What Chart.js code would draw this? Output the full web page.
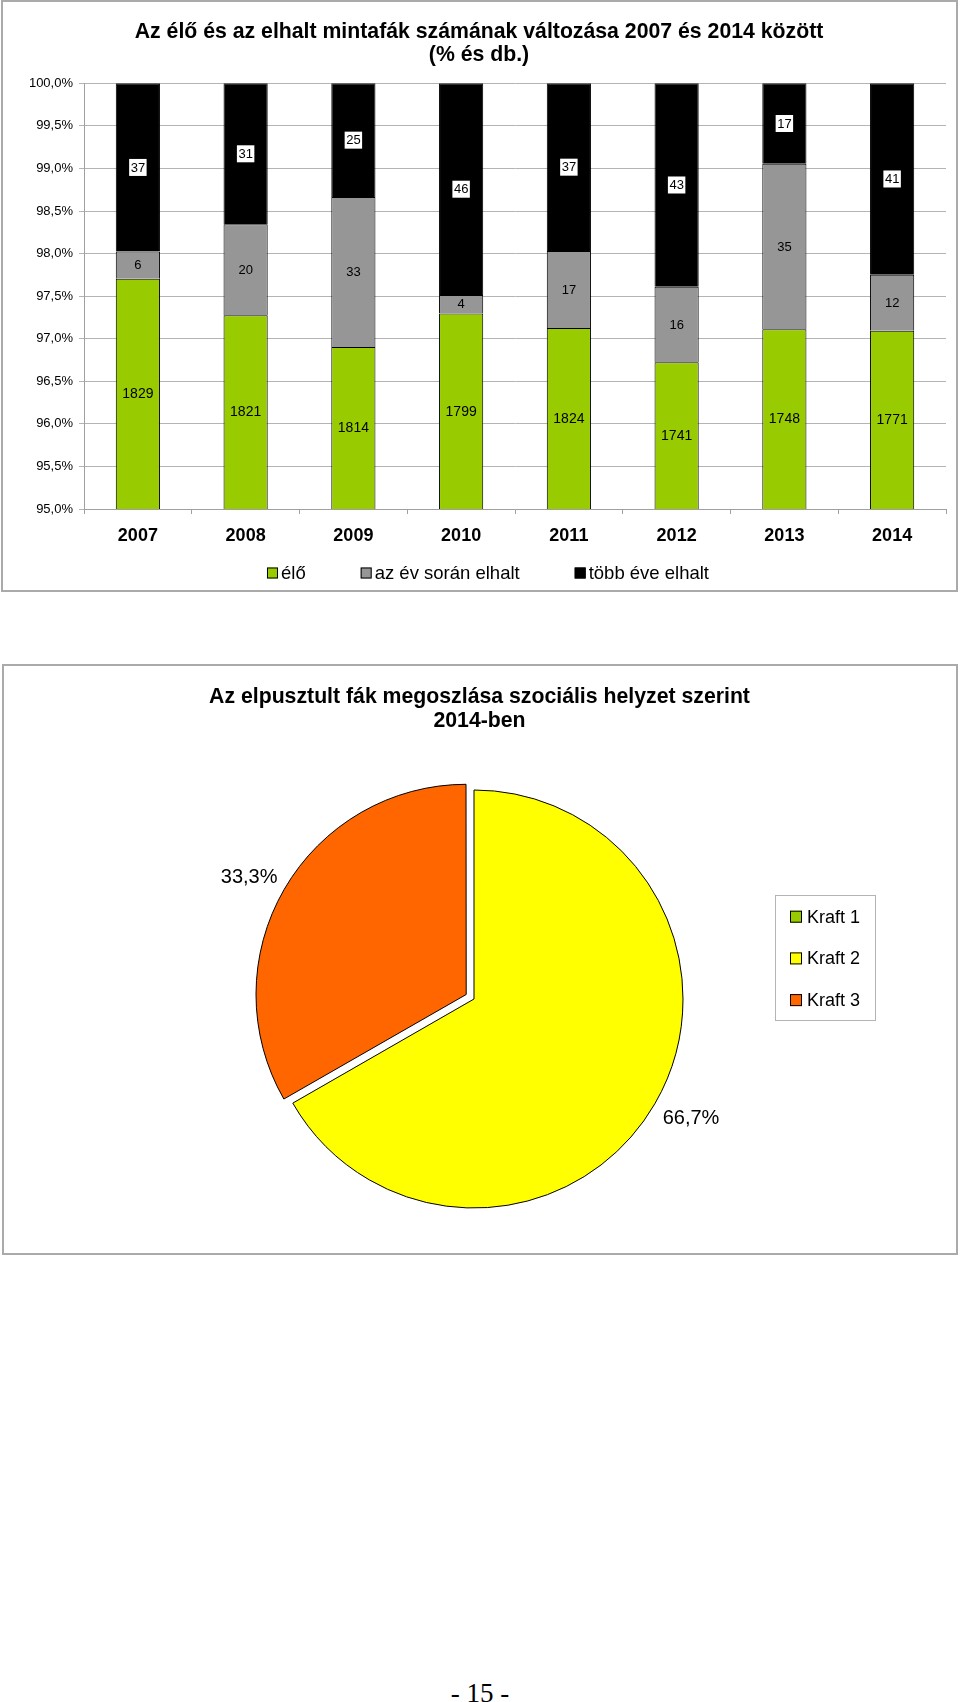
<!DOCTYPE html>
<html>
<head>
<meta charset="utf-8">
<script src="https://cdn.jsdelivr.net/npm/chart.js@4.4.1/dist/chart.umd.min.js"></script>
<style>
html,body{margin:0;padding:0;background:#fff;width:960px;height:1702px;overflow:hidden;position:relative;}
.frame{position:absolute;border:2px solid #aaaaaa;box-sizing:border-box;}
canvas{position:absolute;left:0;}
#pageno{position:absolute;left:0;width:960px;top:1678px;text-align:center;font-family:"Liberation Serif","Times New Roman",serif;font-size:27px;line-height:30px;color:#000;}
</style>
</head>
<body>
<div class="frame" style="left:1px;top:0px;width:957px;height:592px"></div>
<div class="frame" style="left:2px;top:664px;width:956px;height:591px"></div>
<canvas id="c1" width="960" height="595" style="top:0px"></canvas>
<canvas id="c2" width="960" height="700" style="top:600px"></canvas>
<div id="pageno">- 15 -</div>
<script>
// ---- data (chart 1) ----
const years = ['2007', '2008', '2009', '2010', '2011', '2012', '2013', '2014'];
const elo = [1829, 1821, 1814, 1799, 1824, 1741, 1748, 1771];
const evSoranElhalt = [6, 20, 33, 4, 17, 16, 35, 12];
const tobbEveElhalt = [37, 31, 25, 46, 37, 43, 17, 41];
const seriesNames = ['élő', 'az év során elhalt', 'több éve elhalt'];
const title1 = ['Az élő és az elhalt mintafák számának változása 2007 és 2014 között', '(% és db.)'];
const yMin = 95, yMax = 100, yStep = 0.5;

// ---- data (chart 2) ----
const pieLabels = ['Kraft 1', 'Kraft 2', 'Kraft 3'];
const pieValues = [0, 66.7, 33.3];
const title2 = ['Az elpusztult fák megoszlása szociális helyzet szerint', '2014-ben'];

const FONT = '"Liberation Sans", Arial, Helvetica, sans-serif';
Chart.defaults.font.family = FONT;
Chart.defaults.color = '#000';

const totals = years.map((_, i) => elo[i] + evSoranElhalt[i] + tobbEveElhalt[i]);
const share = arr => arr.map((v, i) => v / totals[i] * 100);
const fmtPct = v => v.toFixed(1).replace('.', ',') + '%';

const barLabels = {
  id: 'barLabels',
  afterDatasetsDraw(chart) {
    const {ctx, chartArea} = chart;
    chart.data.datasets.forEach((ds, di) => {
      const meta = chart.getDatasetMeta(di);
      meta.data.forEach((bar, i) => {
        const top = Math.max(Math.min(bar.y, bar.base), chartArea.top);
        const bottom = Math.min(Math.max(bar.y, bar.base), chartArea.bottom);
        const cx = bar.x, cy = (top + bottom) / 2;
        const txt = String(ds.counts[i]);
        ctx.save();
        ctx.font = (di === 0 ? '14px ' : '13px ') + FONT;
        ctx.textAlign = 'center';
        ctx.textBaseline = 'middle';
        if (di === 2) {
          const w = ctx.measureText(txt).width + 3;
          ctx.fillStyle = '#fff';
          ctx.fillRect(cx - w / 2, cy - 8.5, w, 17);
        }
        ctx.fillStyle = '#000';
        ctx.fillText(txt, cx, cy + 0.5);
        ctx.restore();
      });
    });
  }
};

const legendRow = {
  id: 'legendRow',
  afterDraw(chart, args, opts) {
    const ctx = chart.ctx;
    ctx.save();
    ctx.font = opts.fontSize + 'px ' + FONT;
    const items = chart.data.datasets.map(d => ({text: d.label, color: d.backgroundColor}));
    const box = opts.box, gap = opts.gap, spacing = opts.spacing;
    const widths = items.map(it => box + gap + ctx.measureText(it.text).width);
    const total = widths.reduce((a, b) => a + b, 0) + spacing * (items.length - 1);
    let x = opts.centerX - total / 2;
    items.forEach((it, i) => {
      ctx.fillStyle = it.color;
      ctx.fillRect(x, opts.y - box / 2, box, box);
      ctx.strokeStyle = '#000';
      ctx.lineWidth = 1;
      ctx.strokeRect(x + 0.5, opts.y - box / 2 + 0.5, box - 1, box - 1);
      ctx.fillStyle = '#000';
      ctx.textAlign = 'left';
      ctx.textBaseline = 'middle';
      ctx.fillText(it.text, x + box + gap, opts.y + 1);
      x += widths[i] + spacing;
    });
    ctx.restore();
  }
};

new Chart(document.getElementById('c1'), {
  type: 'bar',
  data: {
    labels: years,
    datasets: [
      {label: seriesNames[0], data: share(elo), counts: elo, backgroundColor: '#99CC00'},
      {label: seriesNames[1], data: share(evSoranElhalt), counts: evSoranElhalt, backgroundColor: '#969696'},
      {label: seriesNames[2], data: share(tobbEveElhalt), counts: tobbEveElhalt, backgroundColor: '#000000'}
    ]
  },
  options: {
    responsive: false,
    animation: false,
    events: [],
    datasets: {bar: {categoryPercentage: 1, barPercentage: 0.41, borderColor: '#000', borderWidth: 1}},
    layout: {padding: {left: 12, right: 14, top: 0, bottom: 0}},
    plugins: {
      legend: {display: false},
      tooltip: {enabled: false},
      title: {
        display: true, text: title1, color: '#000',
        font: {size: 21.25, weight: 'bold', lineHeight: '23px'},
        padding: {top: 20.5, bottom: 16.8}
      },
      legendRow: {centerX: 488, y: 573, fontSize: 18.5, box: 11, gap: 3, spacing: 55}
    },
    scales: {
      x: {
        stacked: true,
        grid: {drawOnChartArea: false, color: '#a0a0a0', tickLength: 5, offset: true},
        border: {color: '#a0a0a0'},
        ticks: {font: {size: 18, weight: 'bold'}, color: '#000', padding: 11},
        afterFit(s) { s.height = 86; }
      },
      y: {
        stacked: true, min: yMin, max: yMax,
        ticks: {stepSize: yStep, callback: v => fmtPct(v), font: {size: 13}, color: '#000', padding: 6},
        grid: {color: '#b4b4b4', tickLength: 5},
        border: {color: '#a0a0a0'},
        afterFit(s) { s.width = 72; }
      }
    }
  },
  plugins: [barLabels, legendRow]
});

// ---- pie ----
const pieLabelPlugin = {
  id: 'pieOuterLabels',
  afterDatasetsDraw(chart, args, opts) {
    const ctx = chart.ctx;
    const meta = chart.getDatasetMeta(0);
    const ds = chart.data.datasets[0];
    meta.data.forEach((arc, i) => {
      if (!(ds.data[i] > 0)) return;
      const mid = (arc.startAngle + arc.endAngle) / 2;
      const off = (arc.options.offset || 0) / 4;
      const cx = arc.x + Math.cos(mid) * off;
      const cy = arc.y + Math.sin(mid) * off;
      const r = arc.outerRadius + opts.gap;
      const txt = fmtPct(ds.data[i]);
      ctx.save();
      ctx.font = opts.fontSize + 'px ' + FONT;
      const w = ctx.measureText(txt).width;
      const ax = cx + Math.cos(mid) * r;
      const ay = cy + Math.sin(mid) * r;
      ctx.fillStyle = '#000';
      ctx.textAlign = 'center';
      ctx.textBaseline = 'middle';
      ctx.fillText(txt, ax + Math.sign(Math.cos(mid)) * w / 2, ay + Math.sign(Math.sin(mid)) * opts.halfH + 1.5);
      ctx.restore();
    });
  }
};

const legendBox = {
  id: 'legendBox',
  afterDraw(chart, args, opts) {
    const ctx = chart.ctx;
    const ds = chart.data.datasets[0];
    ctx.save();
    ctx.strokeStyle = '#b4b4b4';
    ctx.lineWidth = 1;
    ctx.strokeRect(opts.x + 0.5, opts.y + 0.5, opts.w, opts.h);
    ctx.font = opts.fontSize + 'px ' + FONT;
    ctx.textAlign = 'left';
    ctx.textBaseline = 'middle';
    chart.data.labels.forEach((lab, i) => {
      const y = opts.firstY + i * opts.step;
      const bx = opts.x + opts.boxLeft;
      ctx.fillStyle = ds.backgroundColor[i];
      ctx.fillRect(bx, y - opts.box / 2, opts.box, opts.box);
      ctx.strokeStyle = '#000';
      ctx.strokeRect(bx + 0.5, y - opts.box / 2 + 0.5, opts.box - 1, opts.box - 1);
      ctx.fillStyle = '#000';
      ctx.fillText(lab, bx + opts.box + 5, y + 1);
    });
    ctx.restore();
  }
};

// centre the title on the frame while the pie keeps its own centre
const titleShift = {
  id: 'titleShift',
  afterLayout(chart, args, opts) {
    if (chart.titleBlock) chart.titleBlock.left += opts.dx * 2;
  }
};

new Chart(document.getElementById('c2'), {
  type: 'pie',
  data: {
    labels: pieLabels,
    datasets: [{
      data: pieValues,
      backgroundColor: ['#99CC00', '#FFFF00', '#FF6600'],
      borderColor: '#000',
      borderWidth: 1,
      offset: [0, 0, 36]
    }]
  },
  options: {
    responsive: false,
    animation: false,
    events: [],
    radius: 209,
    layout: {padding: {left: 0, right: 12, top: 0, bottom: 44.75}},
    plugins: {
      legend: {display: false},
      tooltip: {enabled: false},
      title: {
        display: true, text: title2, color: '#000',
        font: {size: 21.25, weight: 'bold', lineHeight: '23.5px'},
        padding: {top: 85.75, bottom: 10}
      },
      titleShift: {dx: 5.5},
      pieOuterLabels: {gap: 9, halfH: 9, fontSize: 20},
      legendBox: {x: 775, y: 295, w: 100, h: 125, boxLeft: 15, box: 12, firstY: 316.7, step: 41.7, fontSize: 18}
    }
  },
  plugins: [pieLabelPlugin, legendBox, titleShift]
});
</script>
</body>
</html>
